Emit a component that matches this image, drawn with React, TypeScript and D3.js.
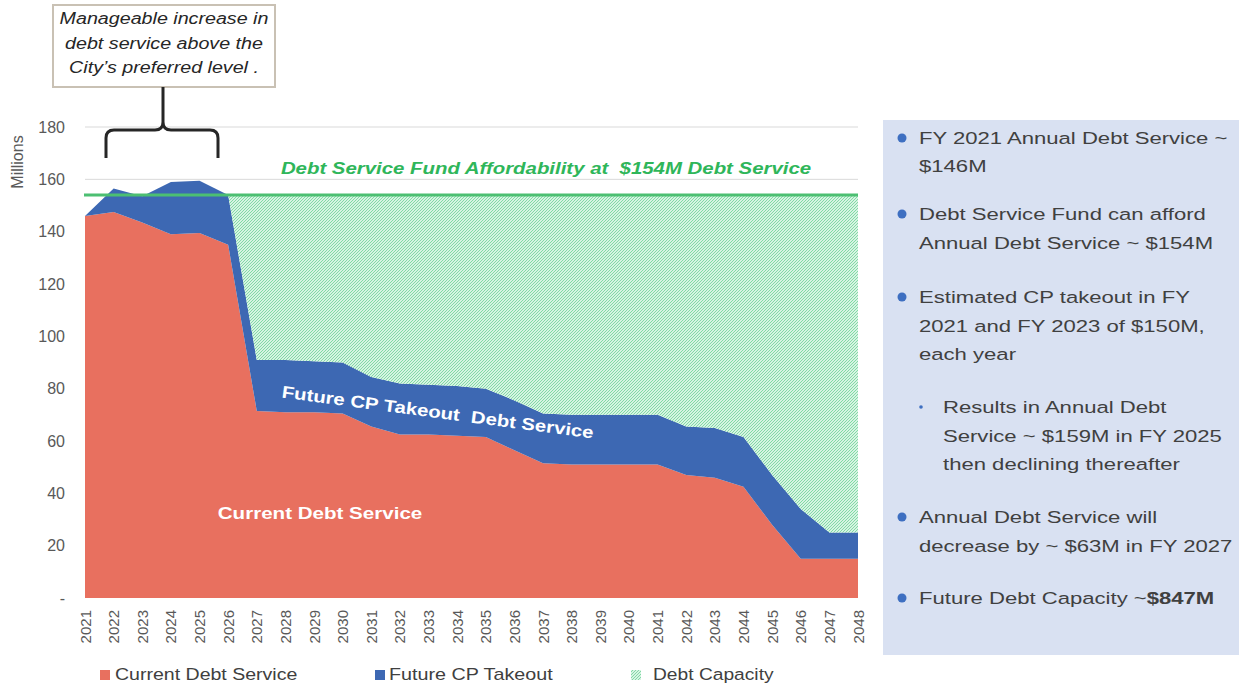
import React from "react";
import * as d3 from "d3";

const years = [2021,2022,2023,2024,2025,2026,2027,2028,2029,2030,2031,2032,2033,2034,2035,2036,2037,2038,2039,2040,2041,2042,2043,2044,2045,2046,2047,2048];
const currentDebt = [146,147.5,143.5,139,139.5,135,71.5,71,71,70.5,65.5,62.5,62.5,62,61.5,56.5,51.5,51,51,51,51,47,46,42.5,28,15,15,15];
const cpTakeout = [0,9,10,20,20,19,19.5,20,19.5,19.5,19,19.5,19,19,18.5,19,19,19,19,19,19,18.5,19,19,19,19,10,10];
const debtCapacity = [0,0,0,0,0,0,63,63,63.5,64,69.5,72,72.5,73,74,78.5,83.5,84,84,84,84,88.5,89,92.5,107,120,129,129];
const yTicks = [0,20,40,60,80,100,120,140,160,180];
const affordability = 154;
const seriesNames = ["Current Debt Service","Future CP Takeout","Debt Capacity"];

const RED = "#E8705F";
const BLUE = "#3D68B3";
const GREEN = "#4cbf72";
const TXT = "#404040";

function T(props: { x: number; y: number; sx?: number; anchor?: string; size: number; fill: string; weight?: string; italic?: boolean; rotate?: number; children: any }) {
  const { x, y, sx = 1, anchor = "start", size, fill, weight, italic, rotate = 0, children } = props;
  return (
    <text
      transform={`translate(${x},${y}) rotate(${rotate}) scale(${sx},1)`}
      textAnchor={anchor}
      fontSize={size}
      fill={fill}
      fontWeight={weight}
      fontStyle={italic ? "italic" : undefined}
    >
      {children}
    </text>
  );
}

export default function App() {
  const x = d3.scaleLinear().domain([2021, 2048]).range([85, 858]);
  const y = d3.scaleLinear().domain([0, 180]).range([598, 127]);

  const table = years.map((yr, i) => ({ year: yr, cur: currentDebt[i], cp: cpTakeout[i], cap: debtCapacity[i] }));
  const stack = d3.stack<any>().keys(["cur", "cp", "cap"]);
  const layers = stack(table);
  const area = d3.area<any>()
    .x((d: any) => x(d.data.year))
    .y0((d: any) => y(d[0]))
    .y1((d: any) => y(d[1]));
  const fills = [RED, BLUE, "url(#hatch)"];

  const ff = "'Liberation Sans', Arial, sans-serif";

  const panelLines: { text: string; y: number; x: number; bullet?: "big" | "small"; bold?: string }[] = [
    { text: "FY 2021 Annual Debt Service ~", y: 138, x: 919, bullet: "big" },
    { text: "$146M", y: 166, x: 919 },
    { text: "Debt Service Fund can afford", y: 214, x: 919, bullet: "big" },
    { text: "Annual Debt Service ~ $154M", y: 243, x: 919 },
    { text: "Estimated CP takeout in FY", y: 297, x: 919, bullet: "big" },
    { text: "2021 and FY 2023 of $150M,", y: 326, x: 919 },
    { text: "each year", y: 354, x: 919 },
    { text: "Results in Annual Debt", y: 407, x: 943, bullet: "small" },
    { text: "Service ~ $159M in FY 2025", y: 436, x: 943 },
    { text: "then declining thereafter", y: 464, x: 943 },
    { text: "Annual Debt Service will", y: 517, x: 919, bullet: "big" },
    { text: "decrease by ~ $63M in FY 2027", y: 546, x: 919 },
    { text: "Future Debt Capacity ~", y: 598, x: 919, bullet: "big", bold: "$847M" },
  ];

  return (
    <svg width={1239} height={687} style={{ position: "absolute", left: 0, top: 0, background: "#fff" }} fontFamily={ff}>
      <defs>
        <pattern id="hatch" width={3} height={3} patternUnits="userSpaceOnUse">
          <rect width={3} height={3} fill="#d6f4e2" />
          <rect x={0} y={0} width={1} height={1} fill="#82d9a6" />
          <rect x={2} y={1} width={1} height={1} fill="#82d9a6" />
          <rect x={1} y={2} width={1} height={1} fill="#82d9a6" />
        </pattern>
      </defs>

      {/* gridlines */}
      {yTicks.filter(t => t > 0).map(t => (
        <line key={t} x1={85} x2={858} y1={y(t)} y2={y(t)} stroke="#d9d9d9" strokeWidth={1} />
      ))}

      {/* areas */}
      {layers.map((layer, i) => (
        <path key={i} d={area(layer as any) || ""} fill={fills[i]} />
      ))}

      {/* affordability line */}
      <line x1={84} x2={858} y1={y(affordability)} y2={y(affordability)} stroke={GREEN} strokeWidth={3} />
      <T x={546} y={174} sx={1.2} anchor="middle" size={17} fill="#2fb65a" weight="bold" italic>
        {"Debt Service Fund Affordability at\u00A0 $154M Debt Service"}
      </T>

      {/* y axis */}
      {yTicks.map(t => (
        <text key={t} x={65} y={y(t) + 5.5} textAnchor="end" fontSize={16} fill="#595959">{t === 0 ? "-" : t}</text>
      ))}
      <text transform={`translate(23,162) rotate(-90)`} textAnchor="middle" fontSize={16} fill="#595959">Millions</text>

      {/* x axis */}
      {years.map(yr => (
        <text key={yr} transform={`translate(${x(yr) + 5.5},610) rotate(-90)`} textAnchor="end" fontSize={15} fill="#595959">{yr}</text>
      ))}

      {/* series labels */}
      <T x={320} y={519} sx={1.21} anchor="middle" size={17} fill="#fff" weight="bold">Current Debt Service</T>
      <T x={437} y={418} sx={1.2} rotate={7.5} anchor="middle" size={17} fill="#fff" weight="bold">{"Future CP Takeout\u00A0 Debt Service"}</T>

      {/* annotation box */}
      <rect x={53} y={5} width={222} height={82} fill="#fff" stroke="#c9c1b4" strokeWidth={2} />
      {["Manageable increase in", "debt service above the", "City’s preferred level ."].map((s, i) => (
        <T key={i} x={164} y={24 + i * 24.5} sx={1.23} anchor="middle" size={16} fill="#262626" italic>{s}</T>
      ))}
      <path d="M163,87 L163,122 Q163,130 155,130 L114,130 Q106,130 106,138 L106,158 M163,122 Q163,130 171,130 L210,130 Q218,130 218,138 L218,158"
        fill="none" stroke="#262626" strokeWidth={3} />

      {/* legend */}
      <rect x={100} y={670} width={10} height={10} fill={RED} />
      <T x={115} y={680} sx={1.15} size={17} fill={TXT}>{seriesNames[0]}</T>
      <rect x={375} y={670} width={10} height={10} fill={BLUE} />
      <T x={389} y={680} sx={1.16} size={17} fill={TXT}>{seriesNames[1]}</T>
      <rect x={631} y={670} width={10} height={10} fill="url(#hatch)" />
      <T x={653} y={680} sx={1.13} size={17} fill={TXT}>{seriesNames[2]}</T>

      {/* right panel */}
      <rect x={883} y={120} width={356} height={535} fill="#d9e1f2" />
      {panelLines.map((l, i) => (
        <g key={i}>
          {l.bullet === "big" && <circle cx={902} cy={l.y} r={4.5} fill="#3e6fc1" />}
          {l.bullet === "small" && <circle cx={921} cy={l.y} r={1.8} fill="#3e6fc1" />}
          <T x={l.x} y={l.y + 6} sx={1.3} size={17} fill={TXT}>
            {l.text}
            {l.bold && <tspan fontWeight="bold">{l.bold}</tspan>}
          </T>
        </g>
      ))}
    </svg>
  );
}
